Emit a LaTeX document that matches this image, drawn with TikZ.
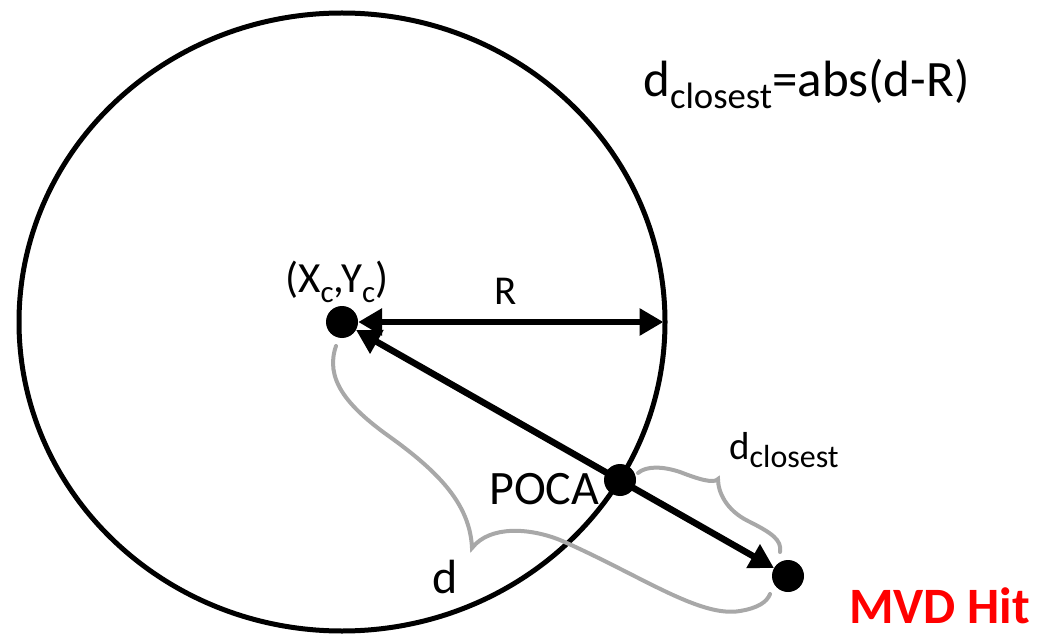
\documentclass[tikz,border=0pt]{standalone}
\usepackage{fontspec}
\setmainfont{Carlito}
\usetikzlibrary{shapes.geometric,arrows.meta}
\definecolor{braceGray}{RGB}{168,168,168}
\definecolor{hitRed}{RGB}{255,0,0}
\makeatletter
\newcommand\lsub[2][0.72]{\raisebox{-0.22em}{\fontsize{\fpeval{#1*\f@size}}{0}\selectfont #2}}
\makeatother
\begin{document}
\begin{tikzpicture}[x=1pt,y=-1pt,
  dot/.style={circle,fill=black,minimum size=32pt,inner sep=0pt},
  arr/.style={line width=6.5pt,{Triangle[length=24pt,width=26pt]}-{Triangle[length=24pt,width=26pt]}},
  brace/.style={draw=braceGray,line width=4pt,line cap=round},
  lbl/.style={inner sep=0pt,anchor=base west}]
\useasboundingbox (0,0) rectangle (1041,636);
% ring
\node[draw,ellipse,line width=5pt,minimum width=646pt,minimum height=618pt,inner sep=0pt,outer sep=0pt] (ring) at (342,322) {};
% points
\node[dot] (c) at (342,322) {};
\node[dot] (poca) at (620,480) {};
\node[dot] (hit) at (788,576) {};
\coordinate (rend) at ([xshift=-1.5pt]ring.east);
% arrows
\draw[arr] (c) -- (rend);
\draw[arr] (c) -- (hit);
% braces
\draw[brace] (336,346) .. controls (325,378) and (345,405) .. (390,437)
  .. controls (440,473) and (470,505) .. (472,548)
  .. controls (490,525) and (530,528) .. (560,540)
  .. controls (640,575) and (700,618) .. (740,611)
  .. controls (758,608) and (767,602) .. (770,594);
\draw[brace] (638,473) .. controls (646,466) and (662,466) .. (680,472)
  .. controls (698,479) and (714,484) .. (718,479)
  .. controls (718,492) and (726,510) .. (748,521)
  .. controls (772,533) and (782,540) .. (780,552);
% labels
\node[lbl,font=\fontsize{43}{43}\selectfont] (xy) at (285,293) {(X\lsub{c},Y\lsub{c})};
\node[lbl,font=\fontsize{41}{41}\selectfont] (rl) at (494,305) {R};
\node[lbl,font=\fontsize{48}{48}\selectfont] (pl) at (489,504) {POCA};
\node[lbl,font=\fontsize{39}{39}\selectfont] (dcl) at (729,459) {d\lsub[0.82]{closest}};
\node[lbl,font=\fontsize{48}{48}\selectfont] (dl) at (432,593) {d};
\node[lbl,font=\fontsize{51}{51}\selectfont] (fl) at (643,97) {d\lsub{closest}=abs(d-R)};
\node[lbl,font=\fontsize{51}{51}\selectfont\bfseries,text=hitRed] (mvd) at (849,623) {MVD Hit};
\end{tikzpicture}
\end{document}
